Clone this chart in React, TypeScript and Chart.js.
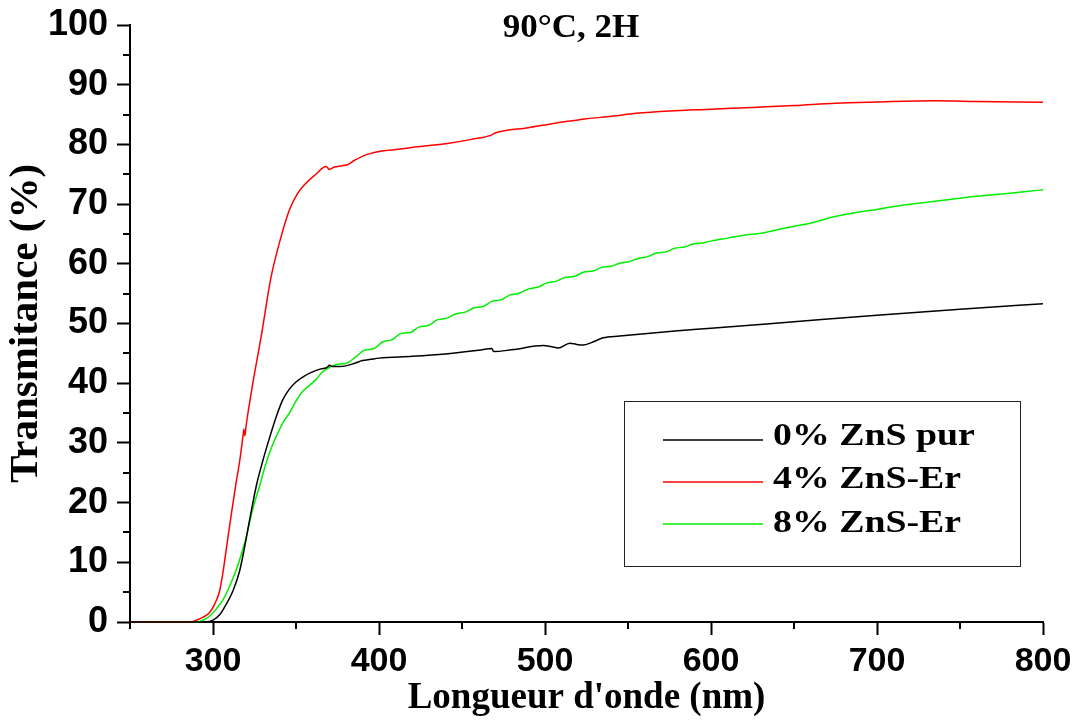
import React, { useEffect, useRef } from "react";
import { Chart, registerables } from "chart.js";

Chart.register(...registerables);

// ---- Data ----
const chartTitle = "90°C, 2H";
const xAxisTitle = "Longueur d'onde (nm)";
const yAxisTitle = "Transmitance (%)";
const seriesLabels = ["0% ZnS pur", "4% ZnS-Er", "8% ZnS-Er"];
const seriesColors = ["#000000", "#ff0000", "#00ee00"];

const xMin = 250;
const xMax = 800;
const xMajorTicks = [300, 400, 500, 600, 700, 800];
const yMajorTicks = [0, 10, 20, 30, 40, 50, 60, 70, 80, 90, 100];

// 0% ZnS pur
const wl0 = [250, 290, 296, 300, 304, 308, 312, 316, 319, 322, 326, 330, 334, 338, 342, 346, 350, 355, 360, 365, 369, 370, 372, 376, 380, 385, 390, 395, 400, 420, 440, 460, 468, 469, 480, 499, 504, 508, 515, 519, 523, 528, 535, 545, 560, 580, 600, 650, 700, 750, 800];
const t0 = [0, 0, 0, 0.3, 1.2, 3, 5.2, 8.5, 12.5, 17, 22.7, 27, 30.8, 34.3, 37.2, 39, 40.2, 41.2, 41.9, 42.4, 42.7, 43.0, 42.8, 42.8, 42.9, 43.3, 43.8, 44.0, 44.2, 44.5, 44.9, 45.5, 45.8, 45.3, 45.6, 46.3, 46.1, 45.9, 46.7, 46.5, 46.4, 46.8, 47.6, 47.9, 48.3, 48.8, 49.2, 50.3, 51.4, 52.4, 53.3];

// 4% ZnS-Er
const wl4 = [250, 286, 290, 294, 298, 301, 304, 306, 308, 311, 314, 316, 318, 318.6, 319.2, 320, 324, 329, 335, 340, 346, 351, 356, 362, 368, 369, 370, 373, 377, 381, 385, 390, 395, 400, 405, 420, 440, 455, 468, 470, 490, 507, 515, 525, 540, 555, 575, 600, 625, 650, 675, 700, 734, 760, 800];
const t4 = [0, 0, 0.3, 0.8, 1.6, 3, 5.2, 8.3, 12.2, 18, 23.5, 26.8, 31, 32.3, 31.2, 33, 40, 47.8, 57.8, 63.5, 69, 71.8, 73.5, 75.0, 76.3, 76.1, 75.8, 76.2, 76.4, 76.6, 77.3, 78, 78.5, 78.8, 79, 79.5, 80.1, 80.8, 81.6, 81.9, 82.8, 83.6, 83.9, 84.3, 84.7, 85.2, 85.6, 85.9, 86.2, 86.5, 86.9, 87.1, 87.3, 87.2, 87.05];

// 8% ZnS-Er
const wl8 = [250, 290, 294, 298, 302, 306, 310, 313, 316, 319, 321, 324, 328, 331, 334, 337, 340, 343, 346, 350, 354, 358, 362, 366, 370, 373, 376, 380, 386, 391, 397, 402, 408, 413, 419, 424, 430, 435, 441, 446, 452, 457, 463, 468, 474, 479, 485, 490, 496, 501, 507, 512, 518, 523, 529, 534, 540, 545, 551, 556, 562, 567, 573, 578, 584, 589, 595, 600, 610, 620, 630, 640, 650, 660, 670, 680, 690, 700, 715, 730, 745, 760, 775, 790, 800];
const t8 = [0, 0, 0.3, 1, 2.2, 3.7, 6, 8, 10.4, 13.2, 15.4, 19, 22.7, 25.7, 28.3, 30.4, 32.2, 33.8, 35, 37, 38.6, 39.6, 40.6, 41.9, 42.6, 43.0, 43.2, 43.3, 44.4, 45.5, 45.8, 46.9, 47.3, 48.3, 48.5, 49.4, 49.7, 50.6, 50.9, 51.6, 51.9, 52.6, 52.9, 53.7, 54.0, 54.8, 55.1, 55.8, 56.1, 56.8, 57.1, 57.7, 57.9, 58.6, 58.8, 59.4, 59.6, 60.1, 60.4, 60.9, 61.2, 61.8, 62.0, 62.6, 62.8, 63.3, 63.5, 63.8, 64.3, 64.8, 65.1, 65.7, 66.3, 66.8, 67.6, 68.2, 68.7, 69.1, 69.8, 70.3, 70.8, 71.3, 71.7, 72.1, 72.4];

const seriesX = [wl0, wl4, wl8];
const seriesY = [t0, t4, t8];

const SERIF = '"Liberation Serif", "Times New Roman", serif';
const SANS = '"Liberation Sans", Arial, sans-serif';

function drawStretched(ctx: CanvasRenderingContext2D, text: string, x: number, y: number, sx: number) {
  ctx.save();
  ctx.translate(x, y);
  ctx.scale(sx, 1);
  ctx.fillText(text, 0, 0);
  ctx.restore();
}

const decorPlugin = {
  id: "decor",
  afterDraw(chart: any) {
    const ctx: CanvasRenderingContext2D = chart.ctx;
    const xs = chart.scales.x;
    const ys = chart.scales.y;
    const area = chart.chartArea;
    ctx.save();
    // minor ticks
    ctx.strokeStyle = "#000";
    ctx.lineWidth = 2;
    ctx.beginPath();
    for (let v = xMin; v <= xMax; v += 50) {
      if (xMajorTicks.includes(v)) continue;
      const px = Math.round(xs.getPixelForValue(v));
      ctx.moveTo(px, area.bottom);
      ctx.lineTo(px, area.bottom + 7);
    }
    for (let v = 0; v <= 100; v += 5) {
      if (yMajorTicks.includes(v)) continue;
      const py = Math.round(ys.getPixelForValue(v));
      ctx.moveTo(area.left, py);
      ctx.lineTo(area.left - 7, py);
    }
    ctx.stroke();

    // title
    ctx.fillStyle = "#000";
    ctx.font = `bold 34px ${SERIF}`;
    ctx.textAlign = "center";
    ctx.textBaseline = "alphabetic";
    drawStretched(ctx, chartTitle, 571, 37, 1.03);

    // legend box
    const bx = 624, by = 401, bw = 396, bh = 165;
    ctx.strokeStyle = "#222";
    ctx.lineWidth = 1;
    ctx.strokeRect(bx + 0.5, by + 0.5, bw, bh);
    const lineY = [440, 482, 524];
    const textY = [445, 488, 532];
    ctx.font = `bold 31px ${SERIF}`;
    ctx.textAlign = "left";
    chart.data.datasets.forEach((ds: any, i: number) => {
      ctx.strokeStyle = ds.borderColor;
      ctx.lineWidth = 1.5;
      ctx.beginPath();
      ctx.moveTo(663, lineY[i]);
      ctx.lineTo(763, lineY[i]);
      ctx.stroke();
      ctx.fillStyle = "#000";
      drawStretched(ctx, ds.label, 773, textY[i], 1.22);
    });
    ctx.restore();
  },
};

export default function App() {
  const canvasRef = useRef<HTMLCanvasElement | null>(null);

  useEffect(() => {
    document.body.style.margin = "0";
    const canvas = canvasRef.current;
    if (!canvas) return;
    const chart = new Chart(canvas, {
      type: "line",
      data: {
        datasets: seriesLabels.map((label, i) => ({
          label,
          data: seriesX[i].map((w, j) => ({ x: w, y: seriesY[i][j] })),
          borderColor: seriesColors[i],
          backgroundColor: seriesColors[i],
          borderWidth: 1.5,
          pointRadius: 0,
          cubicInterpolationMode: "monotone" as const,
          fill: false,
          clip: 4,
        })),
      },
      options: {
        responsive: false,
        animation: false,
        layout: { padding: { top: 25, right: 43, left: 0, bottom: 0 } },
        plugins: {
          legend: { display: false },
          title: { display: false },
          tooltip: { enabled: false },
        },
        scales: {
          x: {
            type: "linear",
            min: xMin,
            max: xMax,
            afterFit: (scale: any) => {
              scale.height = 100;
              scale.paddingLeft = 0;
              scale.paddingRight = 0;
            },
            border: { display: true, color: "#000", width: 2 },
            grid: {
              drawOnChartArea: false,
              drawTicks: true,
              tickLength: 13,
              tickWidth: 2,
              tickColor: (c: any) => (c.tick && xMajorTicks.includes(c.tick.value) ? "#000" : "rgba(0,0,0,0)"),
            },
            ticks: {
              stepSize: 50,
              autoSkip: false,
              maxRotation: 0,
              padding: 6,
              color: "#000",
              font: { family: SANS, size: 34, weight: "bold" },
              callback: (v: any) => (xMajorTicks.includes(Number(v)) ? String(v) : ""),
            },
            title: {
              display: true,
              text: xAxisTitle,
              color: "#000",
              font: { family: SERIF, size: 37, weight: "bold" },
              padding: { top: 0, bottom: 1 },
            },
          },
          y: {
            type: "linear",
            min: 0,
            max: 100,
            afterFit: (scale: any) => {
              scale.width = 130;
              scale.paddingTop = 0;
              scale.paddingBottom = 0;
            },
            border: { display: true, color: "#000", width: 2 },
            grid: {
              drawOnChartArea: false,
              drawTicks: true,
              tickLength: 13,
              tickWidth: 2,
              tickColor: (c: any) => (c.tick && yMajorTicks.includes(c.tick.value) ? "#000" : "rgba(0,0,0,0)"),
            },
            ticks: {
              stepSize: 5,
              autoSkip: false,
              padding: 9,
              color: "#000",
              font: { family: SANS, size: 36, weight: "bold" },
              callback: (v: any) => (yMajorTicks.includes(Number(v)) ? String(v) : ""),
            },
            title: {
              display: true,
              text: yAxisTitle,
              color: "#000",
              font: { family: SERIF, size: 41, weight: "bold" },
              padding: { top: 2, bottom: 0 },
            },
          },
        },
      },
      plugins: [decorPlugin],
    });
    return () => chart.destroy();
  }, []);

  return (
    <div style={{ width: 1086, height: 722, background: "#fff" }}>
      <canvas ref={canvasRef} width={1086} height={722} />
    </div>
  );
}
